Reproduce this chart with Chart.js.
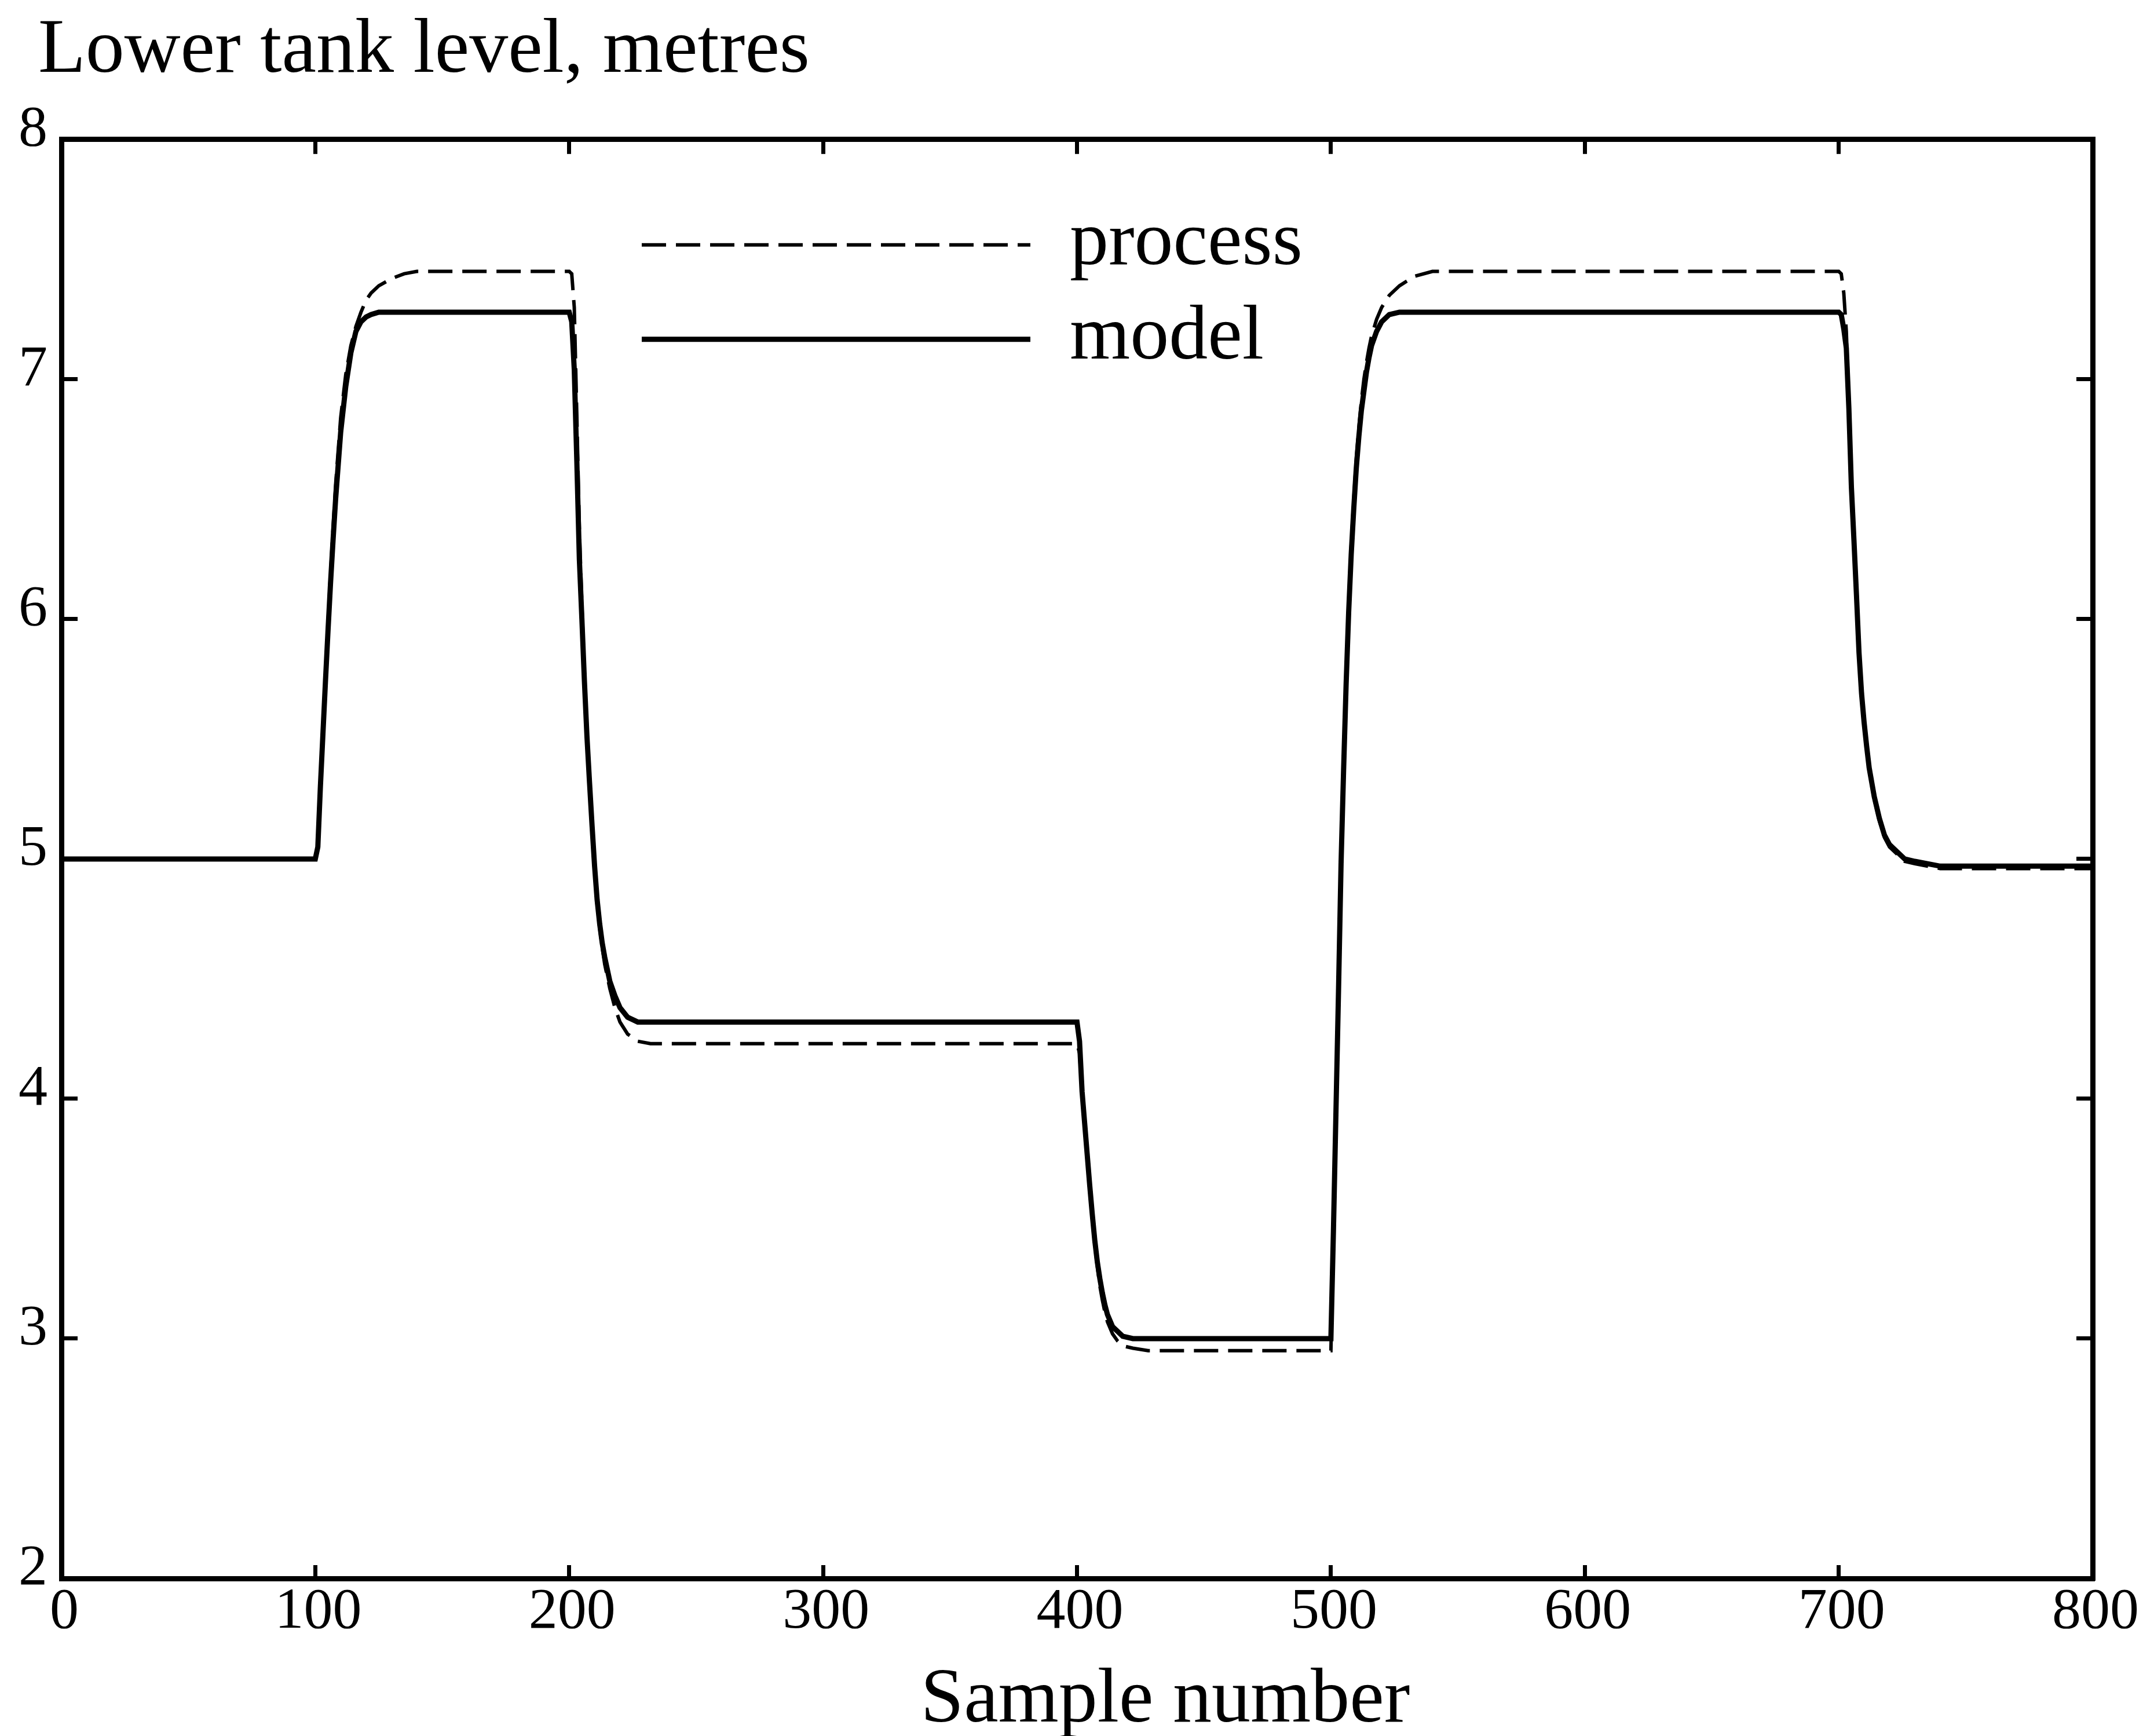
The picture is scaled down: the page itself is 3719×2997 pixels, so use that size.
<!DOCTYPE html>
<html>
<head>
<meta charset="utf-8">
<title>Lower tank level, metres</title>
<script src="https://cdn.jsdelivr.net/npm/chart.js@4.4.1/dist/chart.umd.min.js"></script>
<style>
  html, body { margin: 0; padding: 0; background: #fff; }
  #wrap { width: 3719px; height: 2997px; position: relative; }
</style>
</head>
<body>
<div id="wrap"><canvas id="levelChart"></canvas></div>
<script>
const samples = [
    0, 100, 101, 102, 103, 104, 105, 106, 107, 108, 110, 112, 114, 116, 118, 120, 122, 125, 130, 135, 140,
    200, 201, 202, 203, 204, 205, 206, 207, 208, 209, 210, 211, 212, 213, 214, 216, 218, 220, 223, 227, 232,
    400, 401, 402, 403, 404, 405, 406, 407, 408, 409, 410, 411, 412, 414, 416, 418, 422, 428,
    500, 501, 502, 503, 504, 505, 506, 507, 508, 509, 510, 511, 512, 513, 514, 515, 516, 518, 520, 523, 527, 533, 540, 550,
    700, 701, 702, 703, 704, 705, 706, 707, 708, 709, 710, 711, 712, 714, 716, 718, 720, 723, 726, 730, 735, 740, 800
];

// Process (measured) lower tank level, metres
const processLevel = [
    5.00, 5.00, 5.05, 5.31, 5.54, 5.77, 5.99, 6.19, 6.38, 6.56, 6.84, 7.02, 7.14, 7.22, 7.28, 7.33, 7.36, 7.39, 7.42, 7.44, 7.45,
    7.45, 7.44, 7.30, 6.85, 6.38, 6.06, 5.77, 5.52, 5.31, 5.12, 4.95, 4.81, 4.71, 4.63, 4.56, 4.46, 4.38, 4.32, 4.27, 4.24, 4.23,
    4.23, 4.19, 4.01, 3.88, 3.75, 3.62, 3.50, 3.39, 3.30, 3.22, 3.16, 3.11, 3.07, 3.02, 2.99, 2.97, 2.96, 2.95,
    2.95, 3.42, 3.94, 4.46, 5.00, 5.39, 5.76, 6.07, 6.31, 6.50, 6.67, 6.80, 6.91, 7.00, 7.07, 7.13, 7.18, 7.25, 7.30, 7.35, 7.39, 7.43, 7.45, 7.45,
    7.45, 7.44, 7.36, 7.20, 6.92, 6.58, 6.34, 6.10, 5.85, 5.68, 5.56, 5.46, 5.37, 5.25, 5.16, 5.09, 5.05, 5.02, 4.99, 4.98, 4.97, 4.96, 4.96
];

// Model prediction of the lower tank level, metres
const modelLevel = [
    5.00, 5.00, 5.05, 5.30, 5.52, 5.74, 5.95, 6.15, 6.33, 6.50, 6.78, 6.97, 7.11, 7.20, 7.24, 7.26, 7.27, 7.28, 7.28, 7.28, 7.28,
    7.28, 7.24, 7.04, 6.66, 6.25, 6.00, 5.74, 5.51, 5.32, 5.14, 4.97, 4.83, 4.73, 4.65, 4.59, 4.49, 4.43, 4.38, 4.34, 4.32, 4.32,
    4.32, 4.24, 4.03, 3.90, 3.77, 3.64, 3.52, 3.41, 3.32, 3.25, 3.19, 3.14, 3.10, 3.05, 3.03, 3.01, 3.00, 3.00,
    3.00, 3.45, 3.95, 4.45, 4.98, 5.37, 5.73, 6.03, 6.27, 6.46, 6.63, 6.76, 6.87, 6.95, 7.03, 7.09, 7.14, 7.20, 7.24, 7.27, 7.28, 7.28, 7.28, 7.28,
    7.28, 7.27, 7.21, 7.13, 6.88, 6.55, 6.33, 6.10, 5.86, 5.69, 5.57, 5.47, 5.38, 5.26, 5.17, 5.10, 5.06, 5.03, 5.00, 4.99, 4.98, 4.97, 4.97
];

// Axis ranges and labels
const xRange = { min: 0, max: 800, step: 100 };
const yRange = { min: 2, max: 8, step: 1 };
const chartTitle = 'Lower tank level, metres';
const xTitle = 'Sample number';
const seriesNames = ['process', 'model'];

const SERIF = "'Liberation Serif', 'DejaVu Serif', serif";
Chart.defaults.font.family = SERIF;
Chart.defaults.color = '#000';

const AXIS_W = 9;
const TICK_W = 7;

function toPoints(values) {
    return samples.map((s, i) => ({ x: s, y: values[i] }));
}

// Shared look of the four frame axes: black border, short inward ticks
function frameAxis(extra) {
    return Object.assign({
        type: 'linear',
        border: { display: true, color: '#000', width: AXIS_W }
    }, extra);
}

function inwardTicks(len) {
    return {
        drawOnChartArea: false,
        drawTicks: true,
        color: '#000',
        tickWidth: TICK_W,
        tickLength: -len
    };
}

/**
 * Legend drawn inside the plot, line sample on the left, name on the right,
 * plus the x axis caption which sits right of the axis centre
 */
const paperText = {
    id: 'paperText',
    afterDraw(chart, args, opts) {
        const { ctx, chartArea } = chart;
        ctx.save();
        ctx.fillStyle = '#000';
        ctx.strokeStyle = '#000';
        ctx.font = `${opts.size}px ${SERIF}`;
        ctx.textAlign = 'left';
        ctx.textBaseline = 'alphabetic';

        chart.data.datasets.forEach((ds, i) => {
            const y = chartArea.top + opts.rowTop + i * opts.rowGap;
            const x0 = chartArea.left + opts.lineStart;
            ctx.lineWidth = ds.borderWidth;
            ctx.setLineDash(ds.borderDash || []);
            ctx.beginPath();
            ctx.moveTo(x0, y);
            ctx.lineTo(x0 + opts.lineLength, y);
            ctx.stroke();
            ctx.setLineDash([]);
            ctx.fillText(ds.label, x0 + opts.lineLength + opts.textGap, y + opts.textDrop);
        });

        ctx.textAlign = 'center';
        ctx.fillText(opts.xTitle, chartArea.left + opts.xTitleShift, chart.height - opts.xTitleBottom);
        ctx.restore();
    }
};

new Chart(document.getElementById('levelChart'), {
    type: 'line',
    data: {
        datasets: [
            {
                label: seriesNames[0],
                data: toPoints(processLevel),
                borderColor: '#000',
                borderWidth: 6,
                borderDash: [42, 17],
                pointRadius: 0,
                tension: 0
            },
            {
                label: seriesNames[1],
                data: toPoints(modelLevel),
                borderColor: '#000',
                borderWidth: 9,
                pointRadius: 0,
                tension: 0
            }
        ]
    },
    plugins: [paperText],
    options: {
        responsive: true,
        maintainAspectRatio: false,
        animation: false,
        layout: { padding: { left: 66, right: 66, top: 0, bottom: 0 } },
        plugins: {
            legend: { display: false },
            tooltip: { enabled: false },
            title: {
                display: true,
                text: chartTitle,
                align: 'start',
                color: '#000',
                font: { size: 134, weight: 'normal', lineHeight: 1.2 },
                padding: { top: 8, bottom: 0 }
            },
            paperText: {
                size: 134,
                rowTop: 182,
                rowGap: 163,
                lineStart: 1002,
                lineLength: 671,
                textGap: 68,
                textDrop: 33,
                xTitle: xTitle,
                xTitleShift: 1906,
                xTitleBottom: 25
            }
        },
        scales: {
            x: frameAxis({
                position: 'bottom',
                min: xRange.min,
                max: xRange.max,
                ticks: {
                    stepSize: xRange.step,
                    maxRotation: 0,
                    autoSkip: false,
                    padding: 22,
                    labelOffset: 5,
                    color: '#000',
                    font: { size: 100, lineHeight: 1.2 }
                },
                grid: inwardTicks(23),
                afterFit: s => { s.height = 272; }
            }),
            y: frameAxis({
                position: 'left',
                min: yRange.min,
                max: yRange.max,
                ticks: {
                    stepSize: yRange.step,
                    autoSkip: false,
                    // mirrored + far keeps the labels unclipped left of the frame
                    mirror: true,
                    crossAlign: 'far',
                    padding: -74,
                    labelOffset: -16,
                    color: '#000',
                    font: { size: 100, lineHeight: 1.2 }
                },
                grid: inwardTicks(28),
                afterFit: s => { s.width = 40; }
            }),
            xTop: frameAxis({
                axis: 'x',
                position: 'top',
                min: xRange.min,
                max: xRange.max,
                ticks: { display: false, stepSize: xRange.step },
                grid: inwardTicks(25),
                afterFit: s => { s.height = 72; }
            }),
            yRight: frameAxis({
                axis: 'y',
                position: 'right',
                min: yRange.min,
                max: yRange.max,
                ticks: { display: false, stepSize: yRange.step },
                grid: inwardTicks(28),
                afterFit: s => { s.width = 40; }
            })
        }
    }
});
</script>
</body>
</html>
